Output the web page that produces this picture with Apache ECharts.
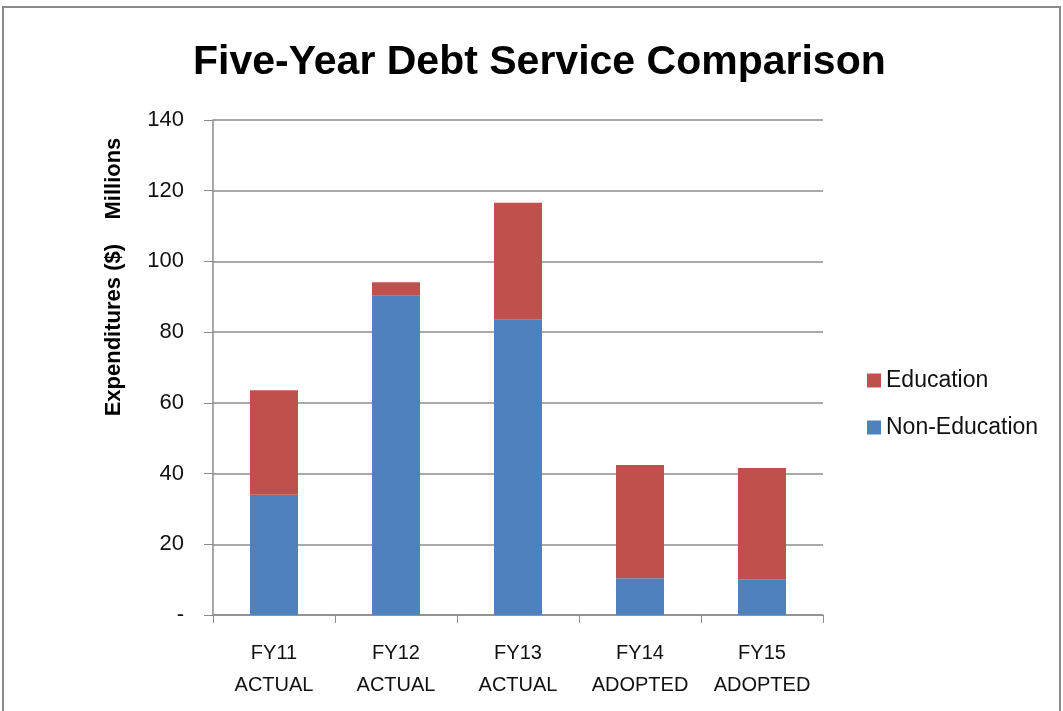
<!DOCTYPE html>
<html>
<head>
<meta charset="utf-8">
<title>Five-Year Debt Service Comparison</title>
<script src="https://cdn.jsdelivr.net/npm/echarts@6/dist/echarts.min.js"></script>
<style>
  html, body { margin: 0; padding: 0; background: #fff; }
  #chart { width: 1063px; height: 711px; }
</style>
</head>
<body>
<div id="chart"></div>
<script>
// Fiscal years and their status
const categories = ['FY11\nACTUAL', 'FY12\nACTUAL', 'FY13\nACTUAL', 'FY14\nADOPTED', 'FY15\nADOPTED'];
// Debt service in millions of dollars
const nonEducation = [34.0, 90.3, 83.5, 10.4, 10.1];
const education = [29.6, 3.8, 33.1, 32.0, 31.5];
// Value axis ticks
const yTicks = [0, 20, 40, 60, 80, 100, 120, 140];
const yAxisTitle = 'Expenditures ($)    Millions';

const labelFont = '"Liberation Sans", Arial, sans-serif';

const chart = echarts.init(document.getElementById('chart'), null, { renderer: 'canvas' });

chart.setOption({
  backgroundColor: '#ffffff',
  animation: false,
  graphic: [
    {
      type: 'rect',
      shape: { x: 3, y: 7, width: 1057, height: 720 },
      style: { fill: 'none', stroke: '#8a8a8a', lineWidth: 2 },
      silent: true
    },
    {
      // vertical value-axis title
      type: 'text',
      x: 114,
      y: 277,
      rotation: Math.PI / 2,
      style: {
        text: yAxisTitle,
        fontFamily: labelFont,
        fontWeight: 'bold',
        fontSize: 22,
        fill: '#000',
        align: 'center',
        verticalAlign: 'middle'
      },
      silent: true
    }
  ],
  title: {
    text: 'Five-Year Debt Service Comparison',
    left: 188,
    top: 37,
    textStyle: {
      fontFamily: labelFont,
      fontWeight: 'bold',
      fontSize: 41,
      color: '#000'
    }
  },
  legend: {
    orient: 'vertical',
    left: 862,
    top: 364,
    itemGap: 24,
    itemWidth: 14,
    itemHeight: 14,
    icon: 'rect',
    data: ['Education', 'Non-Education'],
    textStyle: { fontFamily: labelFont, fontSize: 23, color: '#111' }
  },
  grid: { left: 213, right: 240, top: 120, bottom: 96, containLabel: false },
  xAxis: {
    type: 'category',
    data: categories,
    axisLine: { lineStyle: { color: '#8c8c8c', width: 1.5 } },
    axisTick: { show: true, interval: 0, length: 8, lineStyle: { color: '#8c8c8c' } },
    axisLabel: {
      interval: 0,
      fontFamily: labelFont,
      fontSize: 20,
      color: '#111',
      lineHeight: 32,
      margin: 22
    }
  },
  yAxis: {
    type: 'value',
    min: yTicks[0],
    max: yTicks[yTicks.length - 1],
    interval: 20,
    axisLine: { show: true, lineStyle: { color: '#8c8c8c', width: 1.5 } },
    axisTick: { show: true, inside: false, length: 9, lineStyle: { color: '#8c8c8c' } },
    splitLine: { show: true, lineStyle: { color: '#8c8c8c', width: 1.5 } },
    axisLabel: {
      fontFamily: labelFont,
      fontSize: 22,
      color: '#111',
      margin: 29,
      formatter: v => (v === 0 ? '-' : String(v))
    }
  },
  series: [
    {
      name: 'Non-Education',
      type: 'bar',
      stack: 'total',
      data: nonEducation,
      barWidth: 48,
      itemStyle: { color: '#4F81BD' }
    },
    {
      name: 'Education',
      type: 'bar',
      stack: 'total',
      data: education,
      barWidth: 48,
      itemStyle: { color: '#C0504D' }
    }
  ]
});
</script>
</body>
</html>
